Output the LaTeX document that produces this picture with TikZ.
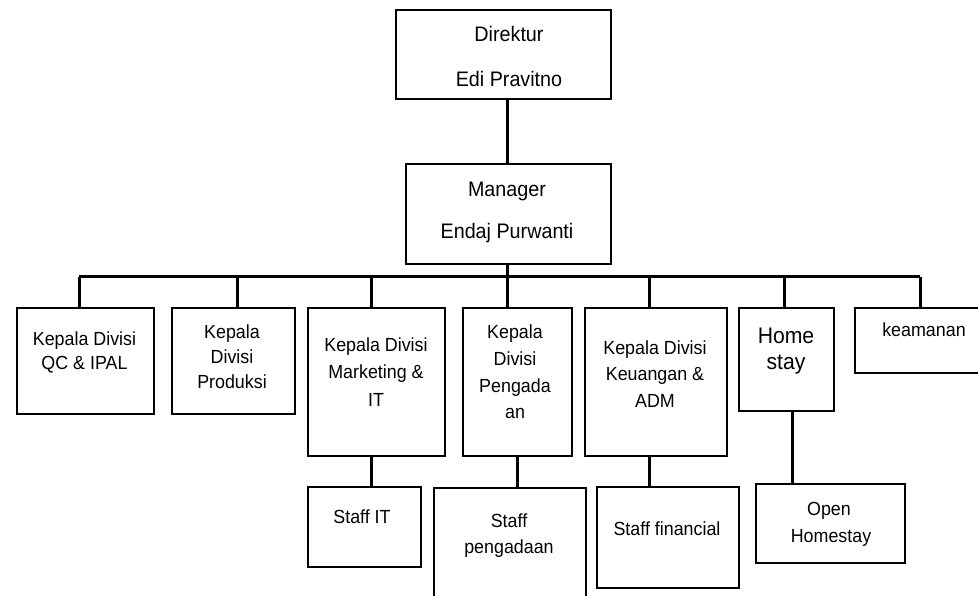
\documentclass[tikz,border=0pt]{standalone}
\usepackage{fontspec}
\setmainfont{Liberation Sans}[FakeStretch=0.94]
\begin{document}
\begin{tikzpicture}[x=1pt,y=-1pt,
  box/.style={draw=black,line width=1.3pt,fill=white,inner sep=0pt},
  con/.style={draw=black,line width=3pt},
  t/.style={anchor=base,inner sep=0pt,font=\fontsize{19}{19}\selectfont},
  tb/.style={anchor=base,inner sep=0pt,font=\fontsize{21}{21}\selectfont},
  th/.style={anchor=base,inner sep=0pt,font=\fontsize{22.5}{22.5}\selectfont}]
\useasboundingbox (0,0) rectangle (978,596);
\fill[white] (0,0) rectangle (978,596);
\clip (0,0) rectangle (978,596);
% boxes
\node[box,minimum width=215pt,minimum height=89pt] (dir) at (503.5,54.5) {};
\node[box,minimum width=205pt,minimum height=100pt] (mgr) at (508.5,214) {};
\node[box,minimum width=137pt,minimum height=106pt] (b1) at (85.5,361) {};
\node[box,minimum width=123pt,minimum height=106pt] (b2) at (233.5,361) {};
\node[box,minimum width=137pt,minimum height=148pt] (b3) at (376.5,382) {};
\node[box,minimum width=109pt,minimum height=148pt] (b4) at (517.5,382) {};
\node[box,minimum width=142pt,minimum height=148pt] (b5) at (656,382) {};
\node[box,minimum width=95pt,minimum height=103pt] (b6) at (786.5,359.5) {};
\node[box,minimum width=135pt,minimum height=65pt] (b7) at (922.5,340.5) {};
\node[box,minimum width=113pt,minimum height=80pt] (s3) at (364.5,527) {};
\node[box,minimum width=152pt,minimum height=122pt] (s4) at (510,549) {};
\node[box,minimum width=142pt,minimum height=101pt] (s5) at (668,537.5) {};
\node[box,minimum width=149pt,minimum height=79pt] (s6) at (830.5,523.5) {};
% bus coordinates
\coordinate (c1) at (79,277);
\coordinate (c2) at (237,277);
\coordinate (c3) at (371,277);
\coordinate (c4) at (507,277);
\coordinate (c5) at (649,277);
\coordinate (c6) at (784,277);
\coordinate (c7) at (920,277);
% connectors
\draw[con] (dir.south -| c4) -- (mgr.north -| c4);
\draw[con] (mgr.south -| c4) -- (c4);
\draw[con] (c1) -- (c7);
\foreach \i in {1,...,7} {\draw[con] (c\i) -- (c\i |- b\i.north);}
\draw[con] (b3.south -| c3) -- (s3.north -| c3);
\draw[con] ([xshift=10pt]b4.south -| c4) -- ([xshift=10pt]s4.north -| c4);
\draw[con] (b5.south -| c5) -- (s5.north -| c5);
\draw[con] ([xshift=8pt]b6.south -| c6) -- ([xshift=8pt]s6.north -| c6);
% texts
\node[tb] (dirt1) at (509,42) {Direktur};
\node[tb] (dirt2) at (509,87) {Edi Pravitno};
\node[tb] (mgrt1) at (507,197) {Manager};
\node[tb] (mgrt2) at (507,239) {Endaj Purwanti};
\node[t] (b1t1) at (84.5,345) {Kepala Divisi};
\node[t] (b1t2) at (84.5,369) {QC \& IPAL};
\node[t] (b2t1) at (232,338) {Kepala};
\node[t] (b2t2) at (232,363) {Divisi};
\node[t] (b2t3) at (232,388) {Produksi};
\node[t] (b3t1) at (376,352) {Kepala Divisi};
\node[t] (b3t2) at (376,378) {Marketing \&};
\node[t] (b3t3) at (376,406) {IT};
\node[t] (b4t1) at (515,338) {Kepala};
\node[t] (b4t2) at (515,365) {Divisi};
\node[t] (b4t3) at (515,392) {Pengada};
\node[t] (b4t4) at (515,418) {an};
\node[t] (b5t1) at (655,354) {Kepala Divisi};
\node[t] (b5t2) at (655,380) {Keuangan \&};
\node[t] (b5t3) at (655,407) {ADM};
\node[th] (b6t1) at (786,343) {Home};
\node[th] (b6t2) at (786,370) {stay};
\node[t] (b7t1) at (924,337) {keamanan};
\node[t] (s3t1) at (362,523) {Staff IT};
\node[t] (s4t1) at (509,527) {Staff};
\node[t] (s4t2) at (509,553) {pengadaan};
\node[t] (s5t1) at (667,535) {Staff financial};
\node[t] (s6t1) at (829,515) {Open};
\node[t] (s6t2) at (831,542) {Homestay};
\end{tikzpicture}
\end{document}
